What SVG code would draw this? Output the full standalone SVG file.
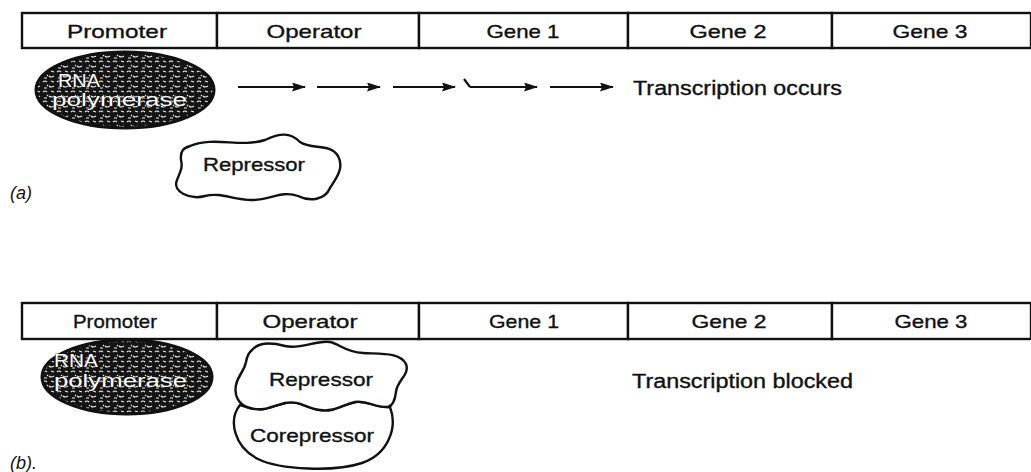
<svg xmlns="http://www.w3.org/2000/svg" width="1031" height="472" viewBox="0 0 1031 472">
<style>
  .seg { fill: #fff; stroke: #111; stroke-width: 2.4; }
  .lbl { font-family: "Liberation Sans", Arial, sans-serif; font-size: 19px; fill: #111; stroke: #111; stroke-width: 0.35; text-anchor: middle; }
  .txt { font-family: "Liberation Sans", Arial, sans-serif; font-size: 20px; fill: #111; stroke: #111; stroke-width: 0.35; }
  .pl { font-family: "Liberation Sans", Arial, sans-serif; font-size: 18px; fill: #111; font-style: italic; }
  .blob { fill: #fff; stroke: #111; stroke-width: 2.4; stroke-linejoin: round; }
  .rnap { fill: url(#tex); stroke: #111; stroke-width: 3; }
  .rnat { font-family: "Liberation Sans", Arial, sans-serif; font-size: 18px; fill: #fff; stroke: #111; stroke-width: 0.6; paint-order: stroke; }
  .conn { stroke: #111; stroke-width: 2.2; fill: none; }
</style>
<defs>
  <pattern id="tex" width="14" height="10" patternUnits="userSpaceOnUse">
    <rect width="14" height="10" fill="#151515"/>
    <path d="M1 2 q2 -2 4 0 M7 6 q2 2 5 0 M2 8 h3 M9 1 l3 1 M5 5 l1 1" stroke="#eee" stroke-width="1.1" fill="none"/>
  </pattern>
  <marker id="ah" viewBox="0 0 14 9" refX="13" refY="4.5" markerWidth="14" markerHeight="9" markerUnits="userSpaceOnUse" orient="auto">
    <path d="M0 0 L14 4.5 L0 9 L2 4.5 Z" fill="#111"/>
  </marker>
</defs>

<!-- Panel (a) -->
<g id="promoter-a"><rect class="seg" x="22" y="13" width="195" height="35"/><text class="lbl" x="117" y="38" textLength="100" lengthAdjust="spacingAndGlyphs">Promoter</text></g>
<g id="operator-a"><rect class="seg" x="217" y="13" width="202" height="35"/><text class="lbl" x="314" y="38" textLength="95" lengthAdjust="spacingAndGlyphs">Operator</text></g>
<g id="gene1-a"><rect class="seg" x="419" y="13" width="209" height="35"/><text class="lbl" x="523" y="38" textLength="73" lengthAdjust="spacingAndGlyphs">Gene 1</text></g>
<g id="gene2-a"><rect class="seg" x="628" y="13" width="204" height="35"/><text class="lbl" x="728" y="38" textLength="77" lengthAdjust="spacingAndGlyphs">Gene 2</text></g>
<g id="gene3-a"><rect class="seg" x="832" y="13" width="199" height="35"/><text class="lbl" x="930" y="38" textLength="75" lengthAdjust="spacingAndGlyphs">Gene 3</text></g>

<g id="rnap-a">
  <ellipse class="rnap" cx="125" cy="90" rx="89" ry="38"/>
  <text class="rnat" x="58" y="87" textLength="42" lengthAdjust="spacingAndGlyphs">RNA</text>
  <text class="rnat" x="52" y="106" textLength="135" lengthAdjust="spacingAndGlyphs">polymerase</text>
</g>

<g id="repressor-a">
  <path class="blob" d="M 190 146 C 215 136, 240 148, 265 140 C 280 133, 290 132, 300 142 C 312 150, 330 143, 338 156 C 345 168, 335 180, 330 188 C 325 200, 310 202, 298 196 C 282 190, 270 200, 252 200 C 232 200, 222 192, 205 196 C 190 200, 172 192, 177 180 C 180 172, 183 168, 181 160 C 180 150, 184 148, 190 146 Z"/>
  <text class="lbl" x="254" y="171" textLength="102" lengthAdjust="spacingAndGlyphs">Repressor</text>
</g>

<g id="connectors">
  <line class="conn" x1="238" y1="87" x2="305" y2="87" marker-end="url(#ah)"/>
  <line class="conn" x1="317" y1="87" x2="380" y2="87" marker-end="url(#ah)"/>
  <line class="conn" x1="393" y1="87" x2="455" y2="87" marker-end="url(#ah)"/>
  <path class="conn" d="M 464 79 L 470 87"/>
  <line class="conn" x1="470" y1="87" x2="537" y2="87" marker-end="url(#ah)"/>
  <line class="conn" x1="550" y1="87" x2="613" y2="87" marker-end="url(#ah)"/>
</g>

<g id="status-a"><text class="txt" x="633" y="95" textLength="209" lengthAdjust="spacingAndGlyphs">Transcription occurs</text></g>
<g id="label-a"><text class="pl" x="10" y="199">(a)</text></g>

<!-- Panel (b) -->
<g id="promoter-b"><rect class="seg" x="22" y="303" width="195" height="36"/><text class="lbl" x="115" y="328" textLength="84" lengthAdjust="spacingAndGlyphs">Promoter</text></g>
<g id="operator-b"><rect class="seg" x="217" y="303" width="202" height="36"/><text class="lbl" x="310" y="328" textLength="95" lengthAdjust="spacingAndGlyphs">Operator</text></g>
<g id="gene1-b"><rect class="seg" x="419" y="303" width="209" height="36"/><text class="lbl" x="524" y="328" textLength="70" lengthAdjust="spacingAndGlyphs">Gene 1</text></g>
<g id="gene2-b"><rect class="seg" x="628" y="303" width="204" height="36"/><text class="lbl" x="729" y="328" textLength="75" lengthAdjust="spacingAndGlyphs">Gene 2</text></g>
<g id="gene3-b"><rect class="seg" x="832" y="303" width="199" height="36"/><text class="lbl" x="931" y="328" textLength="73" lengthAdjust="spacingAndGlyphs">Gene 3</text></g>

<g id="rnap-b">
  <ellipse class="rnap" cx="127" cy="377" rx="85" ry="37"/>
  <text class="rnat" x="54" y="367" textLength="44" lengthAdjust="spacingAndGlyphs">RNA</text>
  <text class="rnat" x="54" y="387" textLength="133" lengthAdjust="spacingAndGlyphs">polymerase</text>
</g>

<g id="corepressor-b">
  <path class="blob" d="M 240 405 C 228 420, 234 447, 258 459 C 280 470, 335 472, 362 463 C 388 454, 398 428, 390 407 C 375 408, 368 400, 355 402 C 342 405, 335 412, 320 410 C 305 408, 300 400, 285 403 C 272 406, 265 412, 250 408 Z"/>
  <text class="lbl" x="312" y="442" textLength="124" lengthAdjust="spacingAndGlyphs">Corepressor</text>
</g>

<g id="repressor-b">
  <path class="blob" d="M 252 350 C 258 343, 270 342, 285 346 C 300 350, 315 340, 330 342 C 340 344, 345 352, 363 353 C 380 354, 400 352, 406 364 C 410 375, 397 380, 396 392 C 395 400, 392 406, 388 407 C 375 408, 368 400, 355 402 C 342 405, 335 412, 320 410 C 305 408, 300 400, 285 403 C 272 406, 265 412, 250 408 C 238 405, 234 395, 236 385 C 238 375, 244 372, 246 362 C 247 356, 248 353, 252 350 Z"/>
  <text class="lbl" x="321" y="386" textLength="104" lengthAdjust="spacingAndGlyphs">Repressor</text>
</g>

<g id="status-b"><text class="txt" x="632" y="388" textLength="221" lengthAdjust="spacingAndGlyphs">Transcription blocked</text></g>
<g id="label-b"><text class="pl" x="10" y="469">(b).</text></g>
</svg>
